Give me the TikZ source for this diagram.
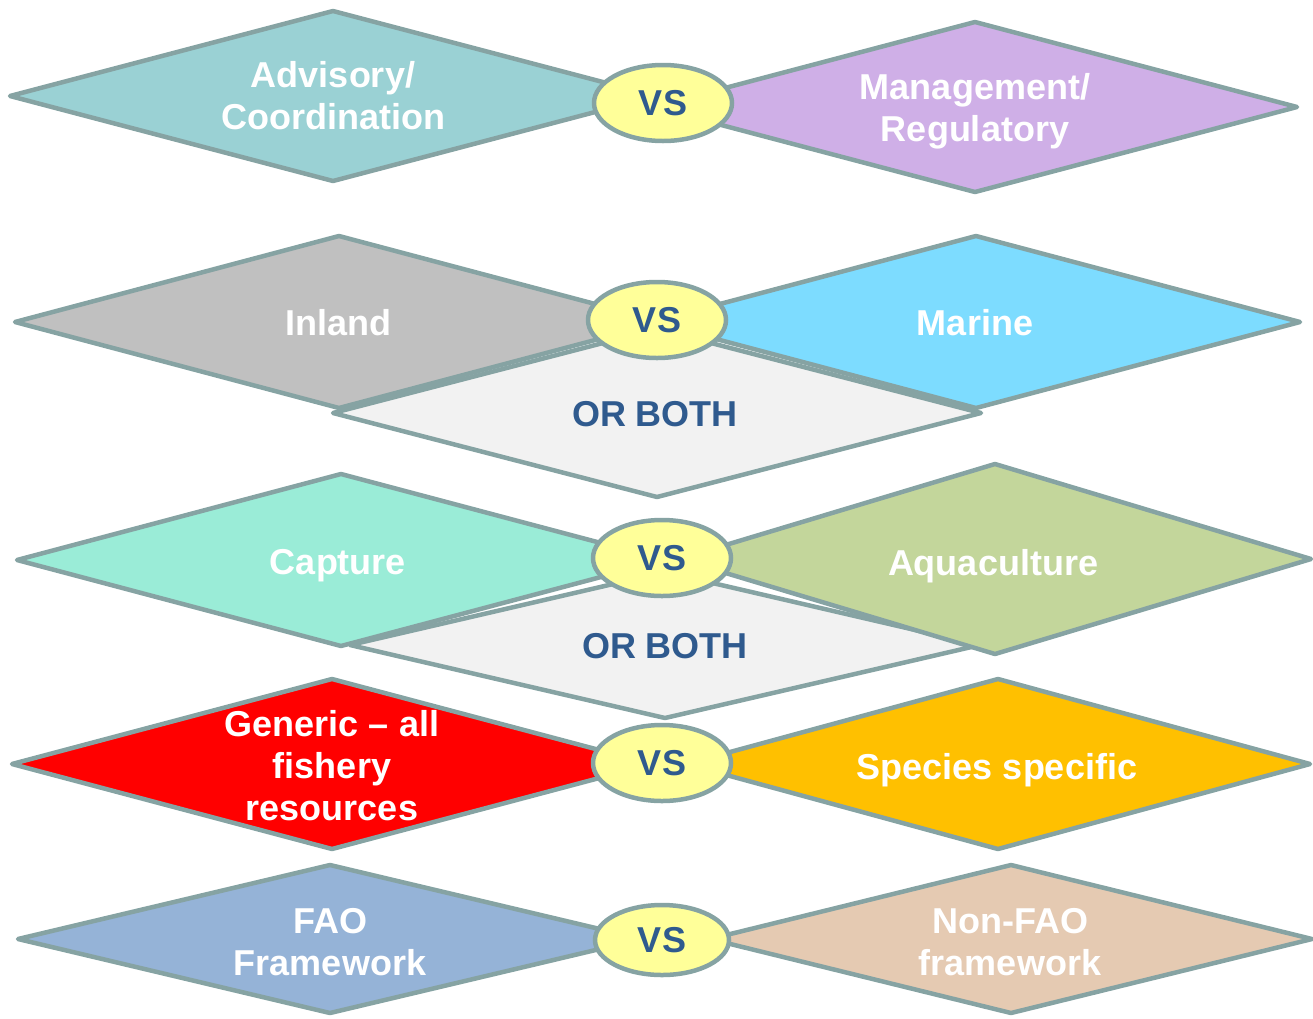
\documentclass[tikz,border=0pt]{standalone}
\usepackage{fontspec}
\setmainfont{Liberation Sans}
\usetikzlibrary{shapes.geometric}
\definecolor{bordc}{HTML}{86A3A3}
\definecolor{vsblue}{HTML}{2F5A8E}
\definecolor{cAdv}{HTML}{9AD1D4}
\definecolor{cMan}{HTML}{CFAFE7}
\definecolor{cInl}{HTML}{C0C0C0}
\definecolor{cMar}{HTML}{7DDCFF}
\definecolor{cBoth}{HTML}{F2F2F2}
\definecolor{cCap}{HTML}{9AECD7}
\definecolor{cAqu}{HTML}{C3D69B}
\definecolor{cGen}{HTML}{FF0000}
\definecolor{cSpe}{HTML}{FFC000}
\definecolor{cFao}{HTML}{95B3D7}
\definecolor{cNon}{HTML}{E5CAB2}
\definecolor{cVs}{HTML}{FFFF99}
\newcommand\fdiamond[5]{%
  \filldraw[dia, fill=#5] (#1-#3,#2) -- (#1,#2-#4) -- (#1+#3,#2) -- (#1,#2+#4) -- cycle;}
\begin{document}
\begin{tikzpicture}[x=1pt,y=-1pt,
  dia/.style={draw=bordc, line width=4.5pt, line join=round},
  vs/.style={ellipse, draw=bordc, fill=cVs, line width=4.5pt, inner sep=0pt,
    minimum width=138pt, minimum height=76pt, text=vsblue,
    font=\fontsize{36}{42}\selectfont\bfseries},
  lbl/.style={text=white, align=center, inner sep=0pt,
    font=\fontsize{36}{42}\selectfont\bfseries},
  both/.style={text=vsblue, align=center, inner sep=0pt,
    font=\fontsize{36}{42}\selectfont\bfseries}]
\useasboundingbox (0,0) rectangle (1313,1018);
% Row 1
\fdiamond{333}{96}{323}{85}{cAdv}
\fdiamond{975}{107}{322}{85}{cMan}
\node[lbl] (advisory) at (333,96) {Advisory/\\Coordination};
\node[lbl] (management) at (975,111) {Management/\\Regulatory};
\node[vs] (vs1) at (663,103) {VS};
% Row 2
\fdiamond{657}{413}{324}{84}{cBoth}
\fdiamond{339}{322}{324}{86}{cInl}
\fdiamond{976}{322}{324}{86}{cMar}
\node[lbl] (inland) at (338,323) {Inland};
\node[lbl] (marine) at (975,323) {Marine};
\node[both] (both1) at (655,414) {OR BOTH};
\node[vs] (vs2) at (657,320) {VS};
% Row 3
\fdiamond{665}{645}{315}{73}{cBoth}
\fdiamond{341}{560}{324}{86}{cCap}
\fdiamond{995}{559}{316}{95}{cAqu}
\node[lbl] (capture) at (338,566) {Capture};
\node[lbl] (aquaculture) at (993,566) {Aquaculture};
\node[both] (both2) at (665,646) {OR BOTH};
\node[vs] (vs3) at (662,558) {VS};
% Row 4
\fdiamond{332}{764}{320}{85}{cGen}
\fdiamond{998}{764}{312}{85}{cSpe}
\node[lbl] (generic) at (332,766) {Generic – all\\fishery\\resources};
\node[lbl] (species) at (997,770) {Species specific};
\node[vs] (vs4) at (662,763) {VS};
% Row 5
\fdiamond{330}{939}{312}{74}{cFao}
\fdiamond{1011}{939}{301}{74}{cNon}
\node[lbl] (fao) at (330,942) {FAO\\Framework};
\node[lbl] (nonfao) at (1010,942) {Non-FAO\\framework};
\node[vs, minimum width=134pt, minimum height=70pt] (vs5) at (662,940) {VS};
\end{tikzpicture}
\end{document}
